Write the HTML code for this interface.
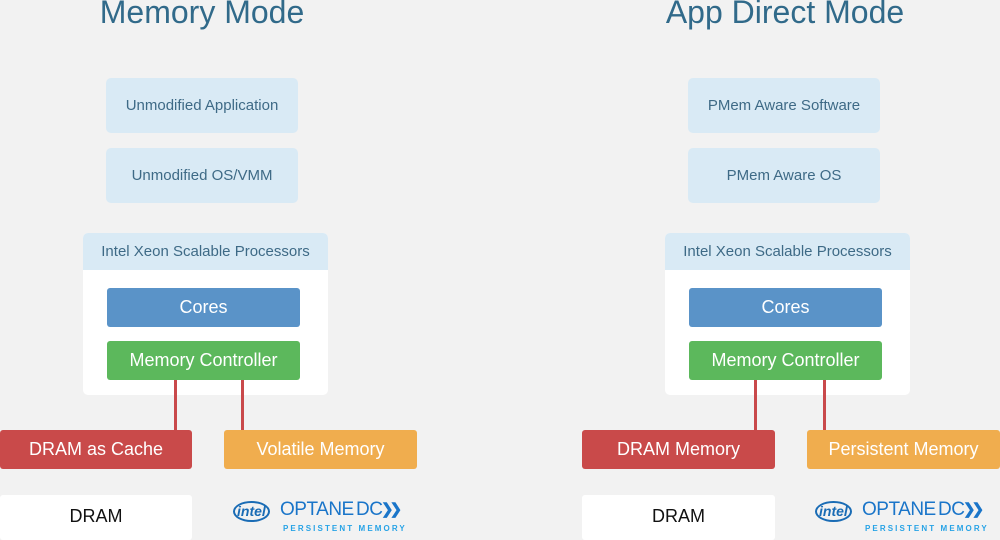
<!DOCTYPE html>
<html><head><style>
body{margin:0;width:1000px;height:535px;background:#f2f2f2;position:relative;overflow:hidden;font-family:"Liberation Sans",sans-serif}
div{position:absolute;box-sizing:border-box}
.t{color:#316a8a;font-size:32px;text-align:center;width:400px;top:-8px;line-height:40px}
.lb{background:#d9eaf5;border-radius:5px;color:#3e6a86;font-size:15px;text-align:center}
.proc{background:#fff;border-radius:5px}
.ph{background:#d9eaf5;border-radius:5px 5px 0 0;color:#3e6a86;font-size:15px;text-align:center;line-height:37px}
.c{background:#5a93c8;border-radius:3px;color:#fff;font-size:18px;text-align:center;line-height:39px}
.m{background:#5cb85c;border-radius:3px;color:#fff;font-size:18px;text-align:center;line-height:39px}
.ln{background:#c9494b;width:3px}
.r{background:#c94a4a;border-radius:3px;color:#fff;font-size:18px;text-align:center;line-height:39px}
.o{background:#f0ad4e;border-radius:3px;color:#fff;font-size:18px;text-align:center;line-height:39px}
.w{background:#fff;border-radius:3px;color:#111;font-size:18px;text-align:center;line-height:43px}
.logo{color:#1a75c9;white-space:nowrap}
.logo span{position:absolute}
.logo .i{left:0;top:2px;font-style:italic;font-weight:bold;font-size:14px;color:#1a6cb5;border:2px solid #1a6cb5;border-radius:50%;padding:0 2px;line-height:17px}
.logo .o1{left:47px;top:0;font-size:19px;letter-spacing:-0.5px}
.logo .d{left:123px;top:0;font-size:19px;letter-spacing:-0.5px}
.logo .ch{left:148px;top:1px;font-size:15px;font-weight:bold;letter-spacing:-4px}
.logo .p{left:50px;top:25px;font-size:8px;letter-spacing:2.1px;font-weight:bold;color:#27a3e6}
</style></head><body>
<div class="t" style="left:2px">Memory Mode</div>
<div class="t" style="left:585px">App Direct Mode</div>

<div class="lb" style="left:106px;top:78px;width:192px;height:55px;line-height:55px">Unmodified Application</div>
<div class="lb" style="left:106px;top:148px;width:192px;height:55px;line-height:55px">Unmodified OS/VMM</div>
<div class="proc" style="left:83px;top:233px;width:245px;height:162px"></div>
<div class="ph" style="left:83px;top:233px;width:245px;height:37px">Intel Xeon Scalable Processors</div>
<div class="c" style="left:107px;top:288px;width:193px;height:39px">Cores</div>
<div class="m" style="left:107px;top:341px;width:193px;height:39px">Memory Controller</div>
<div class="ln" style="left:174px;top:380px;height:50px"></div>
<div class="ln" style="left:241px;top:380px;height:50px"></div>
<div class="r" style="left:0;top:430px;width:192px;height:39px">DRAM as Cache</div>
<div class="o" style="left:224px;top:430px;width:193px;height:39px">Volatile Memory</div>
<div class="w" style="left:0;top:495px;width:192px;height:45px">DRAM</div>
<div class="logo" style="left:233px;top:499px;width:175px;height:36px"><span class="i">intel</span><span class="o1">OPTANE</span><span class="d">DC</span><span class="ch">❯❯</span><span class="p">PERSISTENT MEMORY</span></div>

<div class="lb" style="left:688px;top:78px;width:192px;height:55px;line-height:55px">PMem Aware Software</div>
<div class="lb" style="left:688px;top:148px;width:192px;height:55px;line-height:55px">PMem Aware OS</div>
<div class="proc" style="left:665px;top:233px;width:245px;height:162px"></div>
<div class="ph" style="left:665px;top:233px;width:245px;height:37px">Intel Xeon Scalable Processors</div>
<div class="c" style="left:689px;top:288px;width:193px;height:39px">Cores</div>
<div class="m" style="left:689px;top:341px;width:193px;height:39px">Memory Controller</div>
<div class="ln" style="left:754px;top:380px;height:50px"></div>
<div class="ln" style="left:823px;top:380px;height:50px"></div>
<div class="r" style="left:582px;top:430px;width:193px;height:39px">DRAM Memory</div>
<div class="o" style="left:807px;top:430px;width:193px;height:39px">Persistent Memory</div>
<div class="w" style="left:582px;top:495px;width:193px;height:45px">DRAM</div>
<div class="logo" style="left:815px;top:499px;width:175px;height:36px"><span class="i">intel</span><span class="o1">OPTANE</span><span class="d">DC</span><span class="ch">❯❯</span><span class="p">PERSISTENT MEMORY</span></div>
</body></html>
